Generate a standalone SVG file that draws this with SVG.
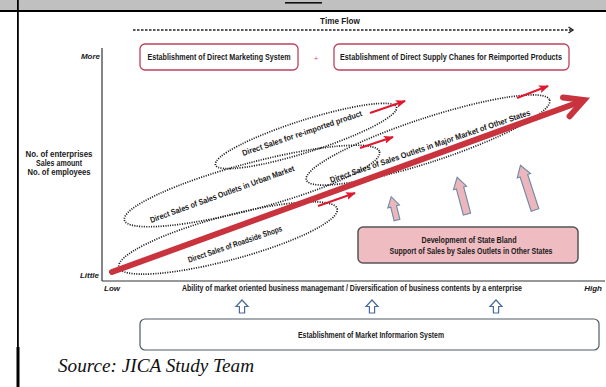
<svg xmlns="http://www.w3.org/2000/svg" width="606" height="387" viewBox="0 0 606 387">
  <style>
    .lbl { font-family: "Liberation Sans Narrow", "Liberation Sans", Arial, sans-serif; font-size: 8.2px; font-weight: bold; fill: #1a1a1a; }
    .axis-end { font-family: "Liberation Sans Narrow", "Liberation Sans", Arial, sans-serif; font-size: 8px; font-weight: bold; font-style: italic; fill: #1a1a1a; }
    .box-w { fill: #ffffff; stroke: #c0405e; stroke-width: 1.3; }
    .box-n { fill: #ffffff; stroke: #505a66; stroke-width: 1.2; }
    .dotted { fill: none; stroke: #1e1e1e; stroke-width: 1.7; stroke-dasharray: 1.1 1.3; }
    .red-thin { fill: none; stroke: #e0182f; stroke-width: 2; }
    .push { fill: #ebb6bc; stroke: #6f8aa6; stroke-width: 1.1; }
    .hollow { fill: #ffffff; stroke: #4a6a9a; stroke-width: 1.2; }
    .source { font-family: "Liberation Serif", "Times New Roman", serif; font-style: italic; font-size: 18px; fill: #111; }
  </style>
  <defs>
    <marker id="redHead" viewBox="0 0 10 8" refX="9" refY="4" markerWidth="5" markerHeight="4" markerUnits="strokeWidth" orient="auto">
      <path d="M0,0 L10,4 L0,8 L2,4 Z" fill="#e0182f"/>
    </marker>
  </defs>

  <!-- page frame -->
  <rect x="0" y="0" width="606" height="10" fill="#c0c0c0"/>
  <rect x="285" y="2" width="37" height="1.6" fill="#111"/>
  <rect x="0" y="10" width="606" height="2" fill="#000"/>
  <rect x="17" y="0" width="1.8" height="348" fill="#000"/>
  <rect x="16.5" y="347" width="3" height="40" fill="#000"/>

  <!-- time flow -->
  <g id="time-flow">
    <text class="lbl" x="340" y="24" text-anchor="middle" font-size="7.4">Time Flow</text>
    <line x1="133" y1="30" x2="572" y2="30" stroke="#222" stroke-width="1.3" stroke-dasharray="2.5 1.5"/>
    <polyline points="568.5,27 573,30 568.5,33" fill="none" stroke="#222" stroke-width="1.4"/>
  </g>

  <!-- axes -->
  <g id="axes">
    <line x1="102" y1="48" x2="102" y2="281" stroke="#333" stroke-width="1.2"/>
    <line x1="102" y1="281" x2="605" y2="281" stroke="#333" stroke-width="1.2"/>
    <text class="axis-end" x="100" y="59" text-anchor="end">More</text>
    <text class="axis-end" x="99" y="278" text-anchor="end">Little</text>
    <text class="axis-end" x="104" y="291">Low</text>
    <text class="axis-end" x="602" y="291" text-anchor="end">High</text>
    <text class="lbl" x="182" y="291" textLength="340" lengthAdjust="spacingAndGlyphs">Ability of market oriented business managemant / Diversification of business contents by a enterprise</text>
    <text class="lbl" x="59" y="157" text-anchor="middle" textLength="67" lengthAdjust="spacingAndGlyphs">No. of enterprises</text>
    <text class="lbl" x="59" y="166" text-anchor="middle" textLength="46" lengthAdjust="spacingAndGlyphs">Sales amount</text>
    <text class="lbl" x="59" y="175" text-anchor="middle" textLength="63" lengthAdjust="spacingAndGlyphs">No. of employees</text>
  </g>

  <!-- top system boxes -->
  <g id="direct-marketing">
    <rect class="box-w" x="140" y="44" width="158" height="26" rx="5"/>
    <text class="lbl" x="219" y="60" text-anchor="middle" textLength="143" lengthAdjust="spacingAndGlyphs">Establishment  of Direct Marketing System</text>
  </g>
  <text x="316" y="61" text-anchor="middle" font-family="Liberation Sans, sans-serif" font-size="8" fill="#e05070">+</text>
  <g id="direct-supply">
    <rect class="box-w" x="334" y="44" width="235" height="26" rx="5"/>
    <text class="lbl" x="451" y="60" text-anchor="middle" textLength="222" lengthAdjust="spacingAndGlyphs">Establishment  of Direct Supply Chanes for Reimported Products</text>
  </g>

  <!-- dotted market stages -->
  <g id="stage-reimported">
    <ellipse class="dotted" cx="306" cy="136" rx="95" ry="16" transform="rotate(-17.7 306 136)"/>
    <text class="lbl" x="302" y="136" text-anchor="middle" transform="rotate(-18.6 302 133)" textLength="126" lengthAdjust="spacingAndGlyphs">Direct Sales for re-imported product</text>
  </g>
  <g id="stage-urban">
    <ellipse class="dotted" cx="252" cy="186" rx="132" ry="23" transform="rotate(-15 252 186)"/>
    <text class="lbl" x="222" y="197" text-anchor="middle" transform="rotate(-20 222 194)" textLength="153" lengthAdjust="spacingAndGlyphs">Direct Sales of Sales Outlets in Urban Market</text>
  </g>
  <g id="stage-major">
    <ellipse class="dotted" cx="428" cy="140" rx="128" ry="22" transform="rotate(-18.2 428 140)"/>
    <text class="lbl" x="430" y="149" text-anchor="middle" transform="rotate(-18.8 430 146)" textLength="211" lengthAdjust="spacingAndGlyphs">Direct Sales of Sales Outlets in Major Market of Other States</text>
  </g>
  <g id="stage-roadside">
    <ellipse class="dotted" cx="228" cy="238" rx="113" ry="22" transform="rotate(-15 228 238)"/>
    <text class="lbl" x="235" y="247" text-anchor="middle" transform="rotate(-18.8 235 244)" textLength="99" lengthAdjust="spacingAndGlyphs">Direct Sales of Roadside Shops</text>
  </g>

  <!-- state support box -->
  <g id="state-support">
    <rect x="358" y="227" width="220" height="36" rx="5" fill="#efbcc2" stroke="#555" stroke-width="1.5"/>
    <text class="lbl" x="469" y="243" text-anchor="middle" textLength="95" lengthAdjust="spacingAndGlyphs">Development  of State Bland</text>
    <text class="lbl" x="471" y="254" text-anchor="middle" textLength="163" lengthAdjust="spacingAndGlyphs">Support of Sales by Sales Outlets in Other States</text>
  </g>

  <!-- market information box -->
  <g id="market-info">
    <rect class="box-n" x="140" y="319" width="459" height="31" rx="5"/>
    <text class="lbl" x="371" y="338" text-anchor="middle" textLength="146" lengthAdjust="spacingAndGlyphs">Establishment  of Market Informarion System</text>
  </g>

  <!-- connectors -->
  <g id="connectors">
    <!-- main growth arrow -->
    <line x1="112" y1="272" x2="581" y2="101.5" stroke="#c9333d" stroke-width="6" stroke-linecap="round"/>
    <polyline points="563,97.4 584,100 569.6,116.2" fill="none" stroke="#c9333d" stroke-width="6" stroke-linejoin="miter" stroke-linecap="round"/>

    <!-- stage expansion arrows -->
    <line class="red-thin" x1="370" y1="113" x2="405" y2="101" marker-end="url(#redHead)"/>
    <line class="red-thin" x1="517" y1="98" x2="548" y2="86" marker-end="url(#redHead)"/>
    <line class="red-thin" x1="360" y1="148" x2="393" y2="137" marker-end="url(#redHead)"/>
    <line class="red-thin" x1="318" y1="206" x2="355" y2="193" marker-end="url(#redHead)"/>

    <!-- support push arrows -->
    <path class="push" transform="translate(397 220) rotate(-14)" d="M-3,0 L-3,-14 L-6,-14 L0,-24 L6,-14 L3,-14 L3,0 Z"/>
    <path class="push" transform="translate(467 214) rotate(-15)" d="M-3.8,0 L-3.8,-27 L-6.8,-27 L0,-38 L6.8,-27 L3.8,-27 L3.8,0 Z"/>
    <path class="push" transform="translate(535 210) rotate(-18)" d="M-4,0 L-4,-36 L-7,-36 L0,-47 L7,-36 L4,-36 L4,0 Z"/>

    <!-- information system arrows -->
    <path class="hollow" transform="translate(242 300)" d="M0,0 L6,6.5 L2.6,6.5 L2.6,13 L-2.6,13 L-2.6,6.5 L-6,6.5 Z"/>
    <path class="hollow" transform="translate(372 300)" d="M0,0 L6,6.5 L2.6,6.5 L2.6,13 L-2.6,13 L-2.6,6.5 L-6,6.5 Z"/>
    <path class="hollow" transform="translate(496 300)" d="M0,0 L6,6.5 L2.6,6.5 L2.6,13 L-2.6,13 L-2.6,6.5 L-6,6.5 Z"/>
  </g>

  <text class="source" x="58" y="372" textLength="196" lengthAdjust="spacingAndGlyphs">Source: JICA Study Team</text>
</svg>
